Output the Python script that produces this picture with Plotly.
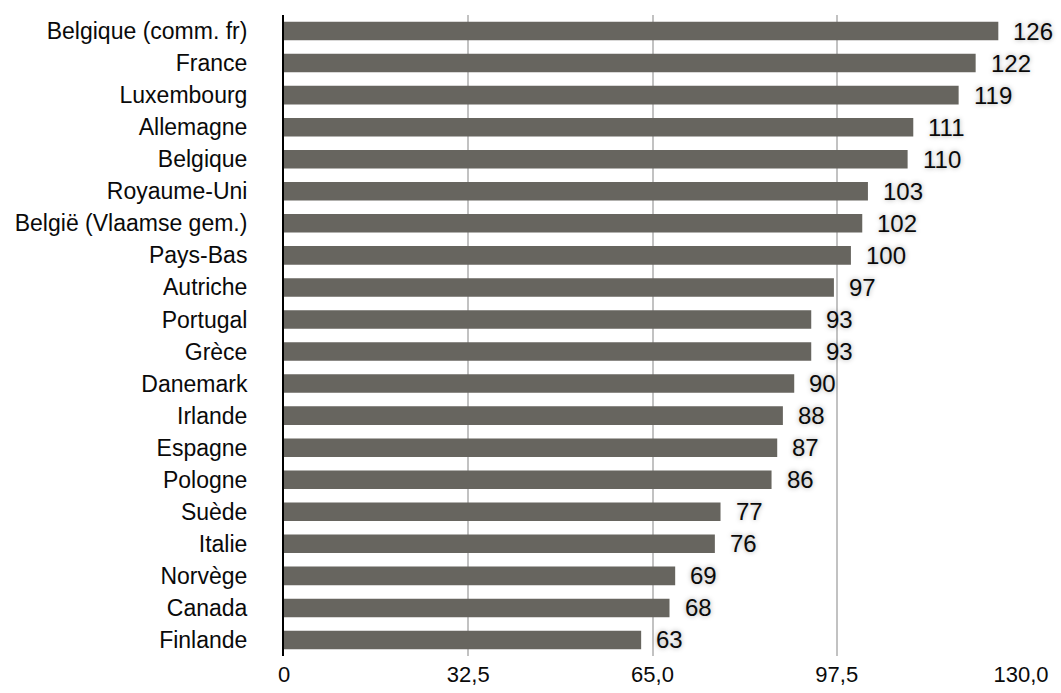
import plotly.graph_objects as go

countries = ["Belgique (comm. fr)", "France", "Luxembourg", "Allemagne", "Belgique",
             "Royaume-Uni", "België (Vlaamse gem.)", "Pays-Bas", "Autriche", "Portugal",
             "Grèce", "Danemark", "Irlande", "Espagne", "Pologne", "Suède", "Italie",
             "Norvège", "Canada", "Finlande"]
values = [126, 122, 119, 111, 110, 103, 102, 100, 97, 93, 93, 90, 88, 87, 86, 77, 76, 69, 68, 63]
tick_vals = [0, 32.5, 65, 97.5, 130]
tick_text = ["0", "32,5", "65,0", "97,5", "130,0"]

FONT = "Liberation Sans, Arial, Helvetica, sans-serif"
BAR_COLOR = "#67655f"

fig = go.Figure()
fig.add_trace(go.Bar(
    x=values, y=countries, orientation="h",
    marker=dict(color=BAR_COLOR, line=dict(width=0)),
    hoverinfo="x+y",
))

for c, v in zip(countries, values):
    fig.add_annotation(
        x=v, y=c, text=str(v), showarrow=False,
        xanchor="left", yanchor="middle", xshift=13, yshift=0,
        font=dict(family=FONT, size=24, color="#0a0a0a",
                  shadow="0px 0px 5px rgba(0,0,0,0.35)"),
    )

fig.update_layout(
    width=1061, height=693,
    margin=dict(l=284, r=40, t=15, b=37),
    paper_bgcolor="white", plot_bgcolor="white",
    showlegend=False,
    bargap=0.42,
    font=dict(family=FONT, size=22, color="#0a0a0a"),
)
fig.update_xaxes(
    range=[0, 130], tickvals=tick_vals, ticktext=tick_text,
    showgrid=True, gridcolor="#c2c2c2", gridwidth=2,
    zeroline=False, showline=False, ticks="", ticklabelstandoff=3,
    automargin=False,
    tickfont=dict(family=FONT, size=22, color="#0a0a0a"),
)
fig.update_yaxes(
    categoryorder="array", categoryarray=countries, autorange="reversed",
    showgrid=False, showline=True, linecolor="#000000", linewidth=2,
    ticks="", ticklabelstandoff=30, automargin=False,
    tickfont=dict(family=FONT, size=23, color="#0a0a0a"),
)

fig.write_html("out.html")
